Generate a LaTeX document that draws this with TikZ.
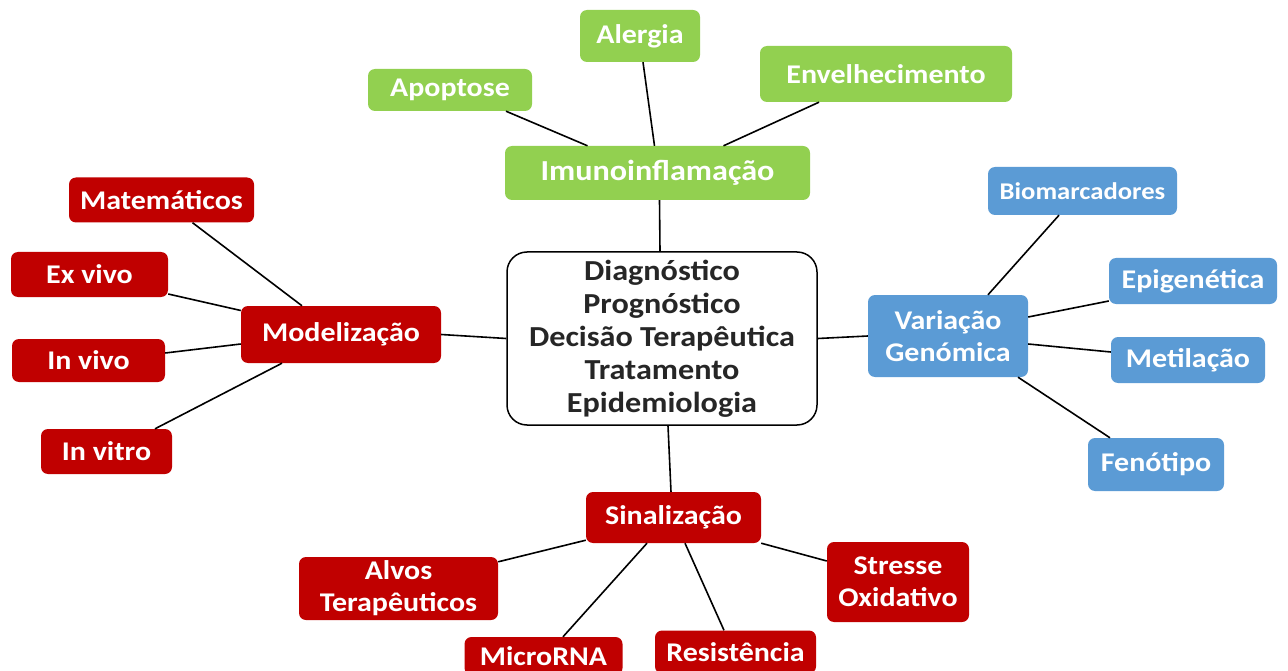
\documentclass[tikz,border=0pt]{standalone}
\usepackage{fontspec}
\setmainfont{Carlito}[FakeStretch=1.11]
\usetikzlibrary{backgrounds}

\begin{document}
\begin{tikzpicture}[x=1pt,y=-1pt,
    box/.style={rounded corners=7pt, inner sep=0pt, align=center, text=white,
      font=\bfseries\fontsize{27}{32}\selectfont},
    greenbox/.style={box, fill=imunogreen},
    redbox/.style={box, fill=modelred},
    bluebox/.style={box, fill=genomeblue},
    link/.style={line width=1.6pt, black}]
    % Define colors
    \definecolor{imunogreen}{RGB}{146,208,80}
    \definecolor{modelred}{RGB}{192,0,0}
    \definecolor{genomeblue}{RGB}{91,155,213}
    \definecolor{centertext}{RGB}{38,38,38}

    \useasboundingbox (0,0) rectangle (1288,671);

    % Central box
    \node[draw=black, line width=1.5pt, rounded corners=20pt, fill=white, align=center,
      minimum width=310pt, minimum height=173pt, text=centertext,
      font=\bfseries\fontsize{29}{33}\selectfont] (centro) at (662,338.5)
      {Diagnóstico\\Prognóstico\\Decisão Terapêutica\\Tratamento\\Epidemiologia};

    % Imunoinflamação branch
    \node[greenbox, minimum width=305pt, minimum height=54pt,
      font=\bfseries\fontsize{29}{34}\selectfont] (imuno) at (657.5,173) {Imunoinflamação};
    \node[greenbox, minimum width=120pt, minimum height=52pt] (alergia) at (640,36) {Alergia};
    \node[greenbox, minimum width=164pt, minimum height=42pt] (apoptose) at (450,90) {Apoptose};
    \node[greenbox, minimum width=252pt, minimum height=56pt] (envelhec) at (886,74) {Envelhecimento};

    % Modelização branch
    \node[redbox, minimum width=200pt, minimum height=57pt] (modelo) at (341,334.5) {Modelização};
    \node[redbox, minimum width=185pt, minimum height=45pt] (matem) at (161.5,200) {Matemáticos};
    \node[redbox, minimum width=157pt, minimum height=45pt] (exvivo) at (89.5,274.5) {Ex vivo};
    \node[redbox, minimum width=153pt, minimum height=43pt] (invivo) at (88.5,360.5) {In vivo};
    \node[redbox, minimum width=131pt, minimum height=45pt] (invitro) at (106.5,451.5) {In vitro};

    % Variação Genómica branch
    \node[bluebox, minimum width=160pt, minimum height=82pt] (variacao) at (948,336) {Variação\\Genómica};
    \node[bluebox, minimum width=189pt, minimum height=48pt,
      font=\bfseries\fontsize{24}{29}\selectfont] (biomarc) at (1082.5,191) {Biomarcadores};
    \node[bluebox, minimum width=168pt, minimum height=46pt] (epigen) at (1193,281) {Epigenética};
    \node[bluebox, minimum width=154pt, minimum height=46pt] (metil) at (1188,360) {Metilação};
    \node[bluebox, minimum width=136pt, minimum height=53pt] (fenot) at (1156,464.5) {Fenótipo};

    % Sinalização branch
    \node[redbox, minimum width=175pt, minimum height=51pt] (sinal) at (673.5,517.5) {Sinalização};
    \node[redbox, minimum width=199pt, minimum height=63pt] (alvos) at (398.5,588.5) {Alvos\\Terapêuticos};
    \node[redbox, minimum width=142pt, minimum height=80pt] (stress) at (898,582) {Stresse\\Oxidativo};
    \node[redbox, minimum width=158pt, minimum height=38pt] (micro) at (543.5,656) {MicroRNA};
    \node[redbox, minimum width=161pt, minimum height=43pt] (resist) at (735.5,652) {Resistência};

    % Connectors
    \draw[link] ([xshift=56pt]apoptose.south) -- ([xshift=-70pt]imuno.north);
    \draw[link] ([xshift=3pt]alergia.south) -- ([xshift=-3pt]imuno.north);
    \draw[link] ([xshift=-67pt]envelhec.south) -- ([xshift=66pt]imuno.north);
    \draw[link] ([xshift=2pt]imuno.south) -- ([xshift=-2pt]centro.north);

    \draw[link] ([xshift=31pt]matem.south) -- ([xshift=-39pt]modelo.north);
    \draw[link] ([yshift=-19.5pt]exvivo.east) -- ([yshift=24pt]modelo.west);
    \draw[link] ([yshift=7.5pt]invivo.east) -- ([yshift=-9.5pt]modelo.west);
    \draw[link] ([xshift=48.5pt]invitro.north) -- ([xshift=-59pt]modelo.south);
    \draw[link] (modelo.east) -- (centro.west);

    \draw[link] ([xshift=-23.5pt]biomarc.south) -- ([xshift=40pt]variacao.north);
    \draw[link] ([yshift=-20pt]epigen.west) -- ([yshift=19pt]variacao.east);
    \draw[link] ([yshift=8pt]metil.west) -- ([yshift=-8pt]variacao.east);
    \draw[link] ([xshift=-46pt]fenot.north) -- ([xshift=70pt]variacao.south);
    \draw[link] (centro.east) -- (variacao.west);

    \draw[link] ([xshift=6pt]centro.south) -- ([xshift=-2.5pt]sinal.north);
    \draw[link] ([yshift=-5pt]alvos.north east) -- ([yshift=3pt]sinal.south west);
    \draw[link] ([xshift=19.5pt]micro.north) -- ([xshift=-26.5pt]sinal.south);
    \draw[link] ([xshift=-11.5pt]resist.north) -- ([xshift=11.5pt]sinal.south);
    \draw[link] ([yshift=21pt]stress.west) -- (sinal.south east);
\end{tikzpicture}
\end{document}
